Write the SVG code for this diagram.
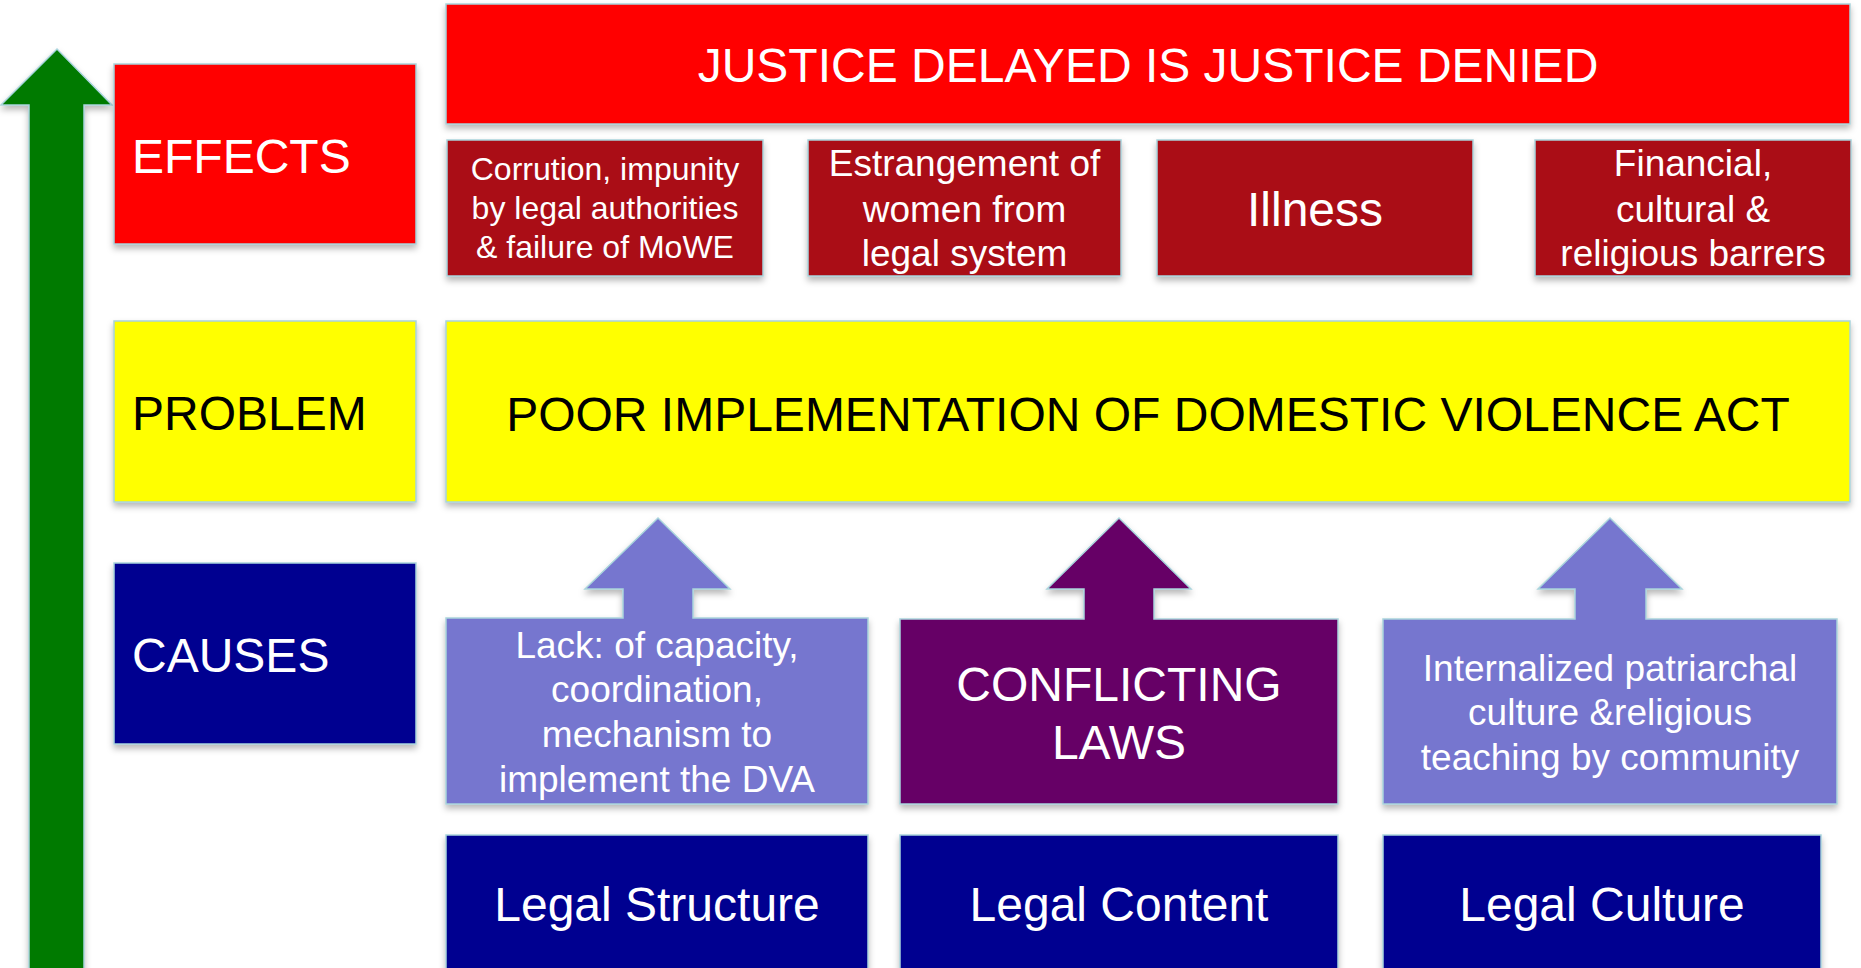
<svg xmlns="http://www.w3.org/2000/svg" width="1861" height="968" viewBox="0 0 1861 968">
<defs>
<filter id="sh" x="-5%" y="-5%" width="110%" height="120%">
<feDropShadow dx="0" dy="4" stdDeviation="3" flood-color="#000" flood-opacity="0.28"/>
</filter>
<style>
.b{stroke:#A9D4DC;stroke-width:1.5;filter:url(#sh)}
.t{font-family:"Liberation Sans",Arial,sans-serif;fill:#fff}
.c{text-anchor:middle}
.red{fill:#FF0000}.dred{fill:#AA0E17}.yel{fill:#FFFF00}.navy{fill:#000090}.lp{fill:#7676CF}.pur{fill:#660066}.grn{fill:#007A00}
</style>
</defs>
<rect width="1861" height="968" fill="#fff"/>
<g id="connectors">
<path id="green-arrow" class="b grn" d="M57,49 L112,105 L84,105 L84,975 L29,975 L29,105 L1,105 Z"/>
</g>
<g id="label-effects">
<rect class="b red" x="114" y="64" width="302" height="180"/>
<text class="t" x="132" y="173" font-size="48">EFFECTS</text>
</g>
<g id="label-problem">
<rect class="b yel" x="114" y="321" width="302" height="181"/>
<text class="t" x="132" y="430" font-size="48" style="fill:#000">PROBLEM</text>
</g>
<g id="label-causes">
<rect class="b navy" x="114" y="563" width="302" height="181"/>
<text class="t" x="132" y="672" font-size="48">CAUSES</text>
</g>
<g id="justice">
<rect class="b red" x="446" y="4" width="1404" height="120"/>
<text class="t c" x="1148" y="82" font-size="48">JUSTICE DELAYED IS JUSTICE DENIED</text>
</g>
<g id="effect-corruption">
<rect class="b dred" x="447" y="140" width="316" height="136"/>
<text class="t c" x="605" font-size="32"><tspan x="605" y="180">Corrution, impunity</tspan><tspan x="605" y="219">by legal authorities</tspan><tspan x="605" y="258">&amp; failure of MoWE</tspan></text>
</g>
<g id="effect-estrangement">
<rect class="b dred" x="808" y="140" width="313" height="136"/>
<text class="t c" x="964.5" font-size="37"><tspan x="964.5" y="176">Estrangement of</tspan><tspan x="964.5" y="222">women from</tspan><tspan x="964.5" y="266">legal system</tspan></text>
</g>
<g id="effect-illness">
<rect class="b dred" x="1157" y="140" width="316" height="136"/>
<text class="t c" x="1315" y="226" font-size="48">Illness</text>
</g>
<g id="effect-barriers">
<rect class="b dred" x="1535" y="140" width="316" height="136"/>
<text class="t c" x="1693" font-size="37"><tspan x="1693" y="176">Financial,</tspan><tspan x="1693" y="222">cultural &amp;</tspan><tspan x="1693" y="266">religious barrers</tspan></text>
</g>
<g id="problem">
<rect class="b yel" x="446" y="321" width="1404" height="181"/>
<text class="t c" x="1148" y="431" font-size="48" style="fill:#000">POOR IMPLEMENTATION OF DOMESTIC VIOLENCE ACT</text>
</g>
<g id="cause-structure">
<path class="b lp" d="M658,518 L730,589 L693,589 L693,618 L868,618 L868,804 L446,804 L446,618 L623,618 L623,589 L585,589 Z"/>
<text class="t c" x="657" font-size="37"><tspan x="657" y="658">Lack: of capacity,</tspan><tspan x="657" y="702">coordination,</tspan><tspan x="657" y="747">mechanism to</tspan><tspan x="657" y="792">implement the DVA</tspan></text>
</g>
<g id="cause-content">
<path class="b pur" d="M1119,518 L1191,589 L1154,589 L1154,619 L1338,619 L1338,804 L900,804 L900,619 L1084,619 L1084,589 L1047,589 Z"/>
<text class="t c" x="1119" font-size="48"><tspan x="1119" y="701">CONFLICTING</tspan><tspan x="1119" y="759">LAWS</tspan></text>
</g>
<g id="cause-culture">
<path class="b lp" d="M1610,518 L1682,589 L1646,589 L1646,619 L1837,619 L1837,804 L1383,804 L1383,619 L1575,619 L1575,589 L1538,589 Z"/>
<text class="t c" x="1610" font-size="37"><tspan x="1610" y="681">Internalized patriarchal</tspan><tspan x="1610" y="725">culture &amp;religious</tspan><tspan x="1610" y="770">teaching by community</tspan></text>
</g>
<g id="legal-structure">
<rect class="b navy" x="446" y="835" width="422" height="160"/>
<text class="t c" x="657" y="921" font-size="48">Legal Structure</text>
</g>
<g id="legal-content">
<rect class="b navy" x="900" y="835" width="438" height="160"/>
<text class="t c" x="1119" y="921" font-size="48">Legal Content</text>
</g>
<g id="legal-culture">
<rect class="b navy" x="1383" y="835" width="438" height="160"/>
<text class="t c" x="1602" y="921" font-size="48">Legal Culture</text>
</g>
</svg>
